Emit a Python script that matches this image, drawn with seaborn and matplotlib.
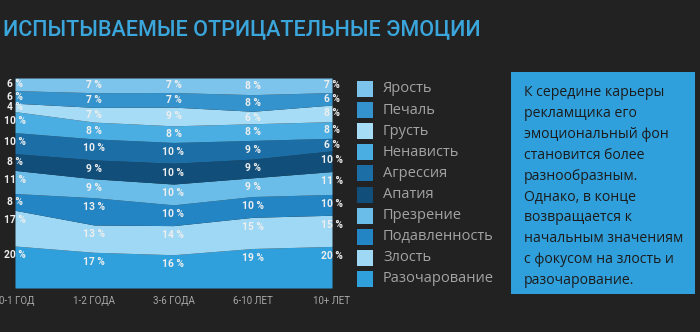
import matplotlib
matplotlib.use("Agg")
import matplotlib.pyplot as plt
from matplotlib.patches import Rectangle
from matplotlib.transforms import ScaledTranslation
import numpy as np
import pandas as pd
import seaborn as sns

# Career stages (x axis)
periods = ["0-1 ГОД", "1-2 ГОДА", "3-6 ГОДА", "6-10 ЛЕТ", "10+ ЛЕТ"]

# Share of each negative emotion per career stage, %
emotions = ["Ярость", "Печаль", "Грусть", "Ненависть", "Агрессия",
            "Апатия", "Презрение", "Подавленность", "Злость", "Разочарование"]
rage = [6, 7, 7, 8, 7]
sadness = [6, 7, 7, 8, 6]
sorrow = [4, 7, 9, 6, 8]
hatred = [10, 8, 8, 8, 8]
aggression = [10, 10, 10, 9, 6]
apathy = [8, 9, 10, 9, 10]
contempt = [11, 9, 10, 9, 11]
depression = [8, 13, 10, 10, 10]
anger = [17, 13, 14, 15, 15]
disappointment = [20, 17, 16, 19, 20]

colors = ["#7cc4ec", "#3493cc", "#a6dcf5", "#4aaee2", "#1c6ea6",
          "#114f7a", "#6bbde9", "#2385c4", "#9ed8f4", "#30a0dc"]

title = "ИСПЫТЫВАЕМЫЕ ОТРИЦАТЕЛЬНЫЕ ЭМОЦИИ"
note_lines = ["К середине карьеры", "рекламщика его", "эмоциональный фон",
              "становится более", "разнообразным.", "Однако, в конце",
              "возвращается к", "начальным значениям",
              "с фокусом на злость и", "разочарование."]

bg = "#222222"
sns.set_theme(style="dark", rc={"axes.facecolor": bg, "figure.facecolor": bg})
plt.rcParams["font.family"] = ["Roboto", "DejaVu Sans"]

df = pd.DataFrame([rage, sadness, sorrow, hatred, aggression, apathy,
                   contempt, depression, anger, disappointment],
                  index=emotions, columns=periods)

# stack from the bottom: last emotion first
order = emotions[::-1]
vals = df.loc[order].to_numpy(dtype=float)
shares = vals / vals.sum(axis=0) * 100  # full-height (100 %) stacking
x = np.arange(len(periods))

fig = plt.figure(figsize=(7.0, 3.32), dpi=100)
W, H = 700, 332
ax = fig.add_axes([15 / W, 1 - 288 / H, (332 - 15) / W, (288 - 78) / H])
ax.set_facecolor(bg)

ax.stackplot(x, shares, colors=[colors[emotions.index(e)] for e in order],
             linewidth=0)
ax.set_xlim(0, len(periods) - 1)
ax.set_ylim(0, 100)
ax.set_yticks([])
ax.set_xticks(x)
ax.set_xticklabels(periods, fontsize=7, color="#a8a8a8")
ax.tick_params(axis="x", length=0, pad=6)
first = ax.get_xticklabels()[0]
first.set_transform(first.get_transform()
                    + ScaledTranslation(2 / 100, 0, fig.dpi_scale_trans))
for s in ax.spines.values():
    s.set_visible(False)
ax.grid(False)

# value labels near the top of each band
tops = np.cumsum(shares, axis=0)
for i, e in enumerate(order):
    for j in range(len(periods)):
        v = vals[i, j]
        y = tops[i, j] - min(shares[i, j] / 2, 4.5)
        ax.text(x[j], y, f"{int(v)} %", ha="center", va="center",
                fontsize=7.4, fontweight="bold", color="#eeeeee",
                clip_on=False)

# title
fig.text(3 / W, 1 - 30 / H, title, fontsize=15.5, color="#3aa6dc",
         ha="left", va="center", fontweight="medium")

# legend
for k, (e, c) in enumerate(zip(emotions, colors)):
    yc = 89 + k * 21.1
    fig.add_artist(Rectangle((357 / W, 1 - (yc + 8) / H), 16 / W, 16 / H,
                             transform=fig.transFigure, facecolor=c,
                             edgecolor="none"))
    fig.text(383 / W, 1 - yc / H, e, fontsize=10.5, color="#a3a3a3",
             ha="left", va="center", family=["Open Sans", "DejaVu Sans"])

# note box
fig.add_artist(Rectangle((511 / W, 1 - 294 / H), (695 - 511) / W,
                         (294 - 72) / H, transform=fig.transFigure,
                         facecolor="#30a0dc", edgecolor="none"))
for k, line in enumerate(note_lines):
    yc = 93 + k * 20.8
    fig.text(524 / W, 1 - yc / H, line, fontsize=10.1, color="#1b1b1b",
             ha="left", va="center", family=["Open Sans", "DejaVu Sans"])

fig.savefig("out.png", dpi=100, facecolor=bg)
